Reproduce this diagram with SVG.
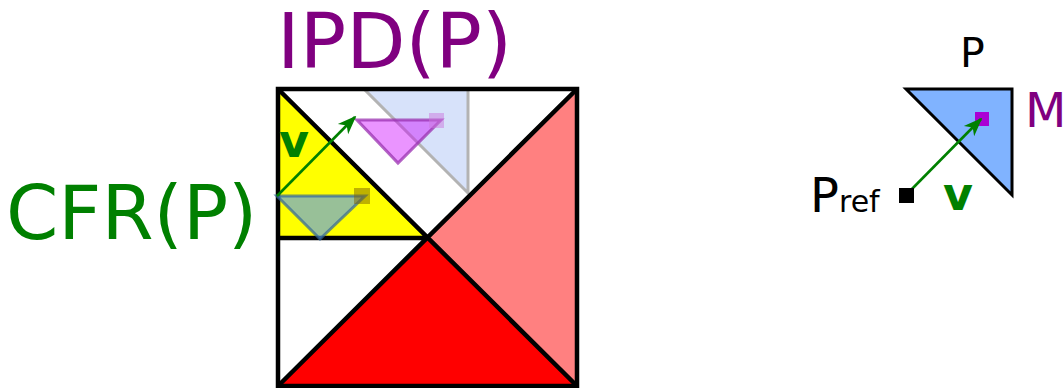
<svg xmlns="http://www.w3.org/2000/svg" width="1064" height="388" viewBox="0 0 1064 388">
<defs>
<marker id="ah2" viewBox="0 0 10 10" refX="9" refY="5" markerWidth="19" markerHeight="19" markerUnits="userSpaceOnUse" orient="auto">
<path d="M0,1.2 L10,5 L0,8.8 L2.8,5 Z" fill="#008000"/>
</marker>
</defs>
<style>
.lbl{font-family:"DejaVu Sans",sans-serif}
.edge{stroke:#000;stroke-width:4.5;fill:none;stroke-linejoin:miter}
.vec{stroke:#008000;stroke-width:2.6;fill:none}
.vb{font-family:"DejaVu Sans",sans-serif;font-weight:bold;fill:#008000;font-size:46px}
</style>
<rect width="1064" height="388" fill="#fff"/>
<g id="square">
<polygon points="278,89 427.5,238 278,238" fill="#ffff00"/>
<polygon points="577,89 427.5,238 577,386" fill="#ff8080"/>
<polygon points="278,386 427.5,238 577,386" fill="#ff0000"/>
</g>
<g id="ipd-ghost">
<polygon points="364,89 468,89 468,193" fill="#afc6f5" fill-opacity="0.5" stroke="#b3b3b3" stroke-width="3"/>
</g>
<g id="square-edges">
<rect x="278" y="89" width="299" height="297" class="edge"/>
<path d="M278,89 L577,386 M577,89 L278,386 M278,238 L427.5,238" class="edge"/>
</g>
<g id="ipd-tri">
<polygon points="357,120 441,120 398,163" fill="#cc00ff" fill-opacity="0.42" stroke="#9a30b0" stroke-opacity="0.75" stroke-width="3"/>
<rect x="429" y="113" width="15" height="15" fill="#cc77dd" fill-opacity="0.5"/>
</g>
<g id="cfr-tri">
<polygon points="277,196 365,196 320,239" fill="#5396fd" fill-opacity="0.6" stroke="#336699" stroke-opacity="0.7" stroke-width="3"/>
<rect x="354" y="188" width="16" height="16" fill="#806400" fill-opacity="0.5"/>
</g>
<g id="p-tri">
<polygon points="906,89 1012,89 1012,195" fill="#80b3ff" stroke="#000" stroke-width="3"/>
<rect x="975" y="112" width="14" height="14" fill="#aa00d4"/>
</g>
<g id="connectors">
<line x1="277" y1="196" x2="355" y2="117" class="vec" marker-end="url(#ah2)"/>
<line x1="906" y1="195" x2="981" y2="119" class="vec" marker-end="url(#ah2)"/>
</g>
<g id="v1"><text x="279" y="157" class="vb">v</text></g>
<g id="ipd-label"><text x="277" y="68" class="lbl" font-size="77" fill="#800080">IPD(P)</text></g>
<g id="cfr-label"><text x="6" y="239" class="lbl" font-size="75" fill="#008000">CFR(P)</text></g>
<g id="p-label"><text x="960" y="67" class="lbl" font-size="41" fill="#000">P</text></g>
<g id="m-label"><text x="1025" y="127" class="lbl" font-size="48" fill="#800080">M</text></g>
<g id="pref">
<rect x="899" y="188" width="15" height="15" fill="#000"/>
<text x="810" y="212" class="lbl" font-size="48" fill="#000">P<tspan font-size="30">ref</tspan></text>
</g>
<g id="v2"><text x="943" y="210" class="vb">v</text></g>
</svg>
